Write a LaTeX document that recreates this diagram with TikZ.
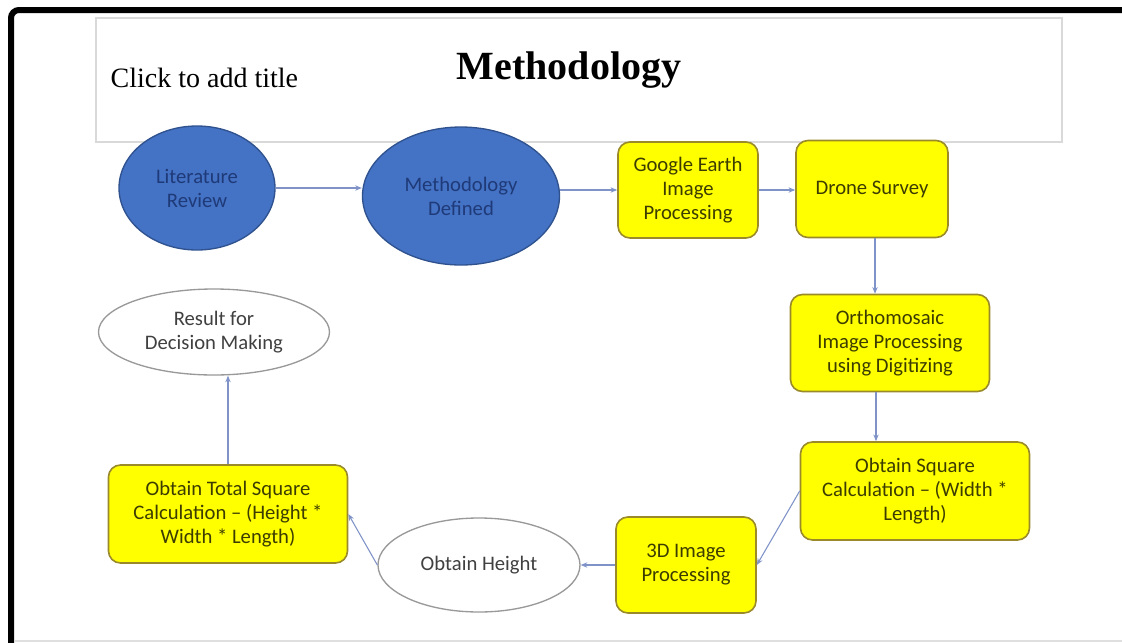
\documentclass[tikz,border=0pt]{standalone}
\usepackage{fontspec}
\setmainfont{Carlito}
\newfontfamily\titlefont{Liberation Serif}
\usetikzlibrary{shapes.geometric,arrows.meta}
\definecolor{blueFill}{HTML}{4472C4}
\definecolor{blueLine}{HTML}{2F528F}
\definecolor{blueText}{HTML}{1F3A78}
\definecolor{yelFill}{HTML}{FFFF00}
\definecolor{yelLine}{HTML}{9A8A2A}
\definecolor{yelText}{HTML}{3C3C00}
\definecolor{grayText}{HTML}{404040}
\definecolor{conn}{HTML}{7F93C8}
\definecolor{boxGray}{HTML}{D9D9D9}
\tikzset{
  txt/.style={font=\fontsize{15.5}{18}\selectfont, align=center},
  blueell/.style={ellipse, draw=blueLine, fill=blueFill, line width=1pt, text=blueText, txt, inner sep=0pt},
  whiteell/.style={ellipse, draw=gray!80, fill=white, line width=1pt, text=grayText, txt, inner sep=0pt},
  yelbox/.style={rectangle, rounded corners=9pt, draw=yelLine, fill=yelFill, line width=1.2pt, text=yelText, txt, inner sep=0pt},
  conarrow/.style={draw=conn, line width=0.8pt, -{Stealth[length=5pt,width=4pt]}}
}
\begin{document}
\begin{tikzpicture}[x=0.75pt,y=-0.75pt]
\useasboundingbox (0,0) rectangle (1122,643);
\fill[white] (0,0) rectangle (1122,643);
% frame
\draw[black, line width=4.5pt, rounded corners=6pt] (11,643) -- (11,10) -- (1122,10);
\draw[gray!25, line width=1pt] (14,641) -- (1122,641);
% title box
\draw[boxGray, line width=1pt] (96,18) rectangle (1062,142);
\node[font=\titlefont\fontsize{21}{24}\selectfont, anchor=west] (clk) at (106,78) {Click to add title};
\node[font=\titlefont\bfseries\fontsize{30}{34}\selectfont] (ttl) at (569,70) {Methodology};
% nodes
\node[blueell, minimum width=117pt, minimum height=93pt] (lit) at (197,188) {Literature\\Review};
\node[blueell, minimum width=147.75pt, minimum height=103.5pt] (meth) at (461,196) {Methodology\\Defined};
\node[yelbox, minimum width=105pt, minimum height=72pt] (ge) at (688,190) {Google Earth\\Image\\Processing};
\node[yelbox, minimum width=114pt, minimum height=72.75pt] (drone) at (872,189) {Drone Survey};
\node[yelbox, minimum width=149.25pt, minimum height=72.75pt] (ortho) at (890,343) {Orthomosaic\\Image Processing\\using Digitizing};
\node[yelbox, minimum width=171.75pt, minimum height=73.5pt] (sq) at (915,491) {Obtain Square\\Calculation -- (Width *\\Length)};
\node[yelbox, minimum width=105pt, minimum height=72pt] (threed) at (686,565) {3D Image\\Processing};
\node[whiteell, minimum width=151.5pt, minimum height=70.5pt] (hgt) at (479,565) {Obtain Height};
\node[yelbox, minimum width=179.25pt, minimum height=73.5pt] (tot) at (228,514) {Obtain Total Square\\Calculation -- (Height *\\Width * Length)};
\node[whiteell, minimum width=173.25pt, minimum height=64.5pt] (res) at (214,332) {Result for\\Decision Making};
% connectors
\draw[conarrow] (lit.east) -- (lit.east -| meth.west);
\draw[conarrow] (meth.east |- ge.west) -- (ge.west);
\draw[conarrow] (ge.east) -- (ge.east -| drone.west);
\draw[conarrow] (drone.south -| 875,0) -- (875,0 |- ortho.north);
\draw[conarrow] (ortho.south -| 876,0) -- (876,0 |- sq.north);
\draw[conarrow] (sq.west) -- (threed.east);
\draw[conarrow] (threed.west) -- (hgt.east);
\draw[conarrow] (hgt.west) -- (tot.east);
\draw[conarrow] (tot.north) -- (tot.north |- res.south);
\end{tikzpicture}
\end{document}
